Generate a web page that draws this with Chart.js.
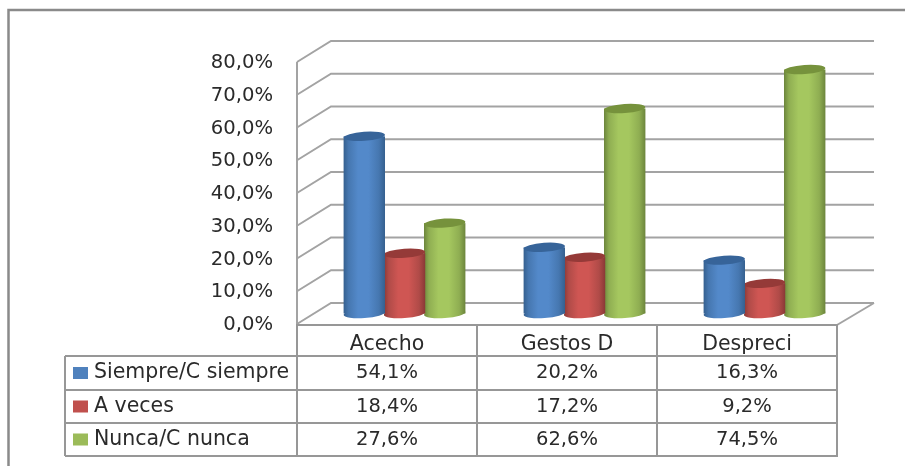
<!DOCTYPE html>
<html>
<head>
<meta charset="utf-8">
<style>
  html, body { margin: 0; padding: 0; background: #fff; }
  canvas { display: block; }
</style>
<script src="https://cdn.jsdelivr.net/npm/chart.js@4"></script>
</head>
<body>
<canvas id="grafico" width="905" height="466"></canvas>
<script>
// datos
const categorias = ["Acecho", "Gestos D", "Despreci"];
const siempre = [54.1, 20.2, 16.3];
const aVeces = [18.4, 17.2, 9.2];
const nunca = [27.6, 62.6, 74.5];
const nombres = ["Siempre/C siempre", "A veces", "Nunca/C nunca"];

// colores: base, borde oscuro, medio, centro claro, tapa
const azul = ["#4f81bd", "#35608f", "#4677b0", "#5389ca", "#376499"];
const rojo = ["#c0504d", "#8a3836", "#b04b48", "#cf5653", "#953a38"];
const verde = ["#9bbb59", "#6c853c", "#8fae52", "#a5c75f", "#76923c"];

const FUENTE = '"DejaVu Sans"';
const TEXTO = "#2a2a2a";
const REJILLA = "#a3a3a3";
const BORDE = "#979797";
// profundidad del fondo 3D
const DX = 34, DY = -21;

function linea(ctx, x1, y1, x2, y2) {
  ctx.beginPath();
  ctx.moveTo(x1, y1);
  ctx.lineTo(x2, y2);
  ctx.stroke();
}

// paredes y rejilla en perspectiva
function dibujarFondo(chart) {
  const ctx = chart.ctx, a = chart.chartArea, y = chart.scales.y;
  ctx.save();
  ctx.strokeStyle = REJILLA;
  ctx.lineWidth = 2;
  y.ticks.forEach(t => {
    const py = y.getPixelForValue(t.value);
    ctx.beginPath();
    ctx.moveTo(a.left, py);
    ctx.lineTo(a.left + DX, py + DY);
    ctx.lineTo(a.right + DX + 3, py + DY);
    ctx.stroke();
  });
  linea(ctx, a.left, a.top, a.left, a.bottom);
  linea(ctx, a.right + DX + 3, a.bottom + DY, a.right, a.bottom + 1);
  ctx.restore();
}

function dibujarCilindro(ctx, el, colores) {
  const izq = el.x - el.width / 2 + DX / 2 + 0.5, der = el.x + el.width / 2 + DX / 2 + 0.5;
  const cx = (izq + der) / 2, rx = el.width / 2, ry = 4.5, giro = -0.07;
  const arriba = el.y + DY / 2, abajo = el.base + DY / 2;
  const grad = ctx.createLinearGradient(izq, 0, der, 0);
  grad.addColorStop(0, colores[1]);
  grad.addColorStop(0.12, colores[2]);
  grad.addColorStop(0.35, colores[3]);
  grad.addColorStop(0.6, colores[3]);
  grad.addColorStop(0.85, colores[2]);
  grad.addColorStop(1, colores[1]);
  ctx.fillStyle = grad;
  ctx.beginPath();
  ctx.ellipse(cx, abajo, rx, ry, giro, 0, Math.PI * 2);
  ctx.fill();
  ctx.fillRect(izq, arriba, der - izq, abajo - arriba);
  ctx.fillStyle = colores[4];
  ctx.beginPath();
  ctx.ellipse(cx, arriba, rx, ry, giro, 0, Math.PI * 2);
  ctx.fill();
}

// tabla de datos debajo del eje
function dibujarTabla(chart) {
  const ctx = chart.ctx, a = chart.chartArea, x = chart.scales.x;
  const filas = [356, 390, 423, 456];
  const izq = 65;
  const cols = categorias.map((c, i) => x.getPixelForValue(i) + (a.right - a.left) / 6);
  ctx.save();
  ctx.strokeStyle = BORDE;
  ctx.lineWidth = 2;
  filas.forEach(f => linea(ctx, izq, f, a.right, f));
  linea(ctx, izq, filas[0], izq, filas[3]);
  linea(ctx, a.left, a.bottom + 1, a.right, a.bottom + 1);
  linea(ctx, a.left, a.bottom, a.left, filas[3]);
  cols.forEach(c => linea(ctx, c, a.bottom, c, filas[3] + 1));
  ctx.textBaseline = "middle";
  chart.data.datasets.forEach((ds, i) => {
    const yc = (filas[i] + filas[i + 1]) / 2;
    ctx.fillStyle = ds.backgroundColor;
    ctx.fillRect(73, yc - 6, 15, 12);
    ctx.fillStyle = TEXTO;
    ctx.textAlign = "left";
    ctx.font = "20.5px " + FUENTE;
    ctx.fillText(nombres[i], 94, yc);
    ctx.textAlign = "center";
    ctx.font = "19.5px " + FUENTE;
    ds.data.forEach((v, j) => {
      ctx.fillText(v.toFixed(1).replace(".", ",") + "%", x.getPixelForValue(j), yc);
    });
  });
  ctx.restore();
}

const plugin3d = {
  id: "plugin3d",
  beforeDatasetsDraw(chart) {
    dibujarFondo(chart);
  },
  beforeDatasetDraw(chart, args) {
    const colores = [azul, rojo, verde][args.index];
    args.meta.data.forEach(el => dibujarCilindro(chart.ctx, el, colores));
    return false;
  },
  afterDraw(chart) {
    dibujarTabla(chart);
    // marco exterior
    const ctx = chart.ctx;
    ctx.save();
    ctx.strokeStyle = "#8a8a8a";
    ctx.lineWidth = 2.5;
    ctx.beginPath();
    ctx.moveTo(8.5, 466);
    ctx.lineTo(8.5, 10);
    ctx.lineTo(905, 10);
    ctx.stroke();
    ctx.restore();
  }
};

new Chart(document.getElementById("grafico"), {
  type: "bar",
  data: {
    labels: categorias,
    datasets: [
      { label: nombres[0], data: siempre, backgroundColor: azul[0] },
      { label: nombres[1], data: aVeces, backgroundColor: rojo[0] },
      { label: nombres[2], data: nunca, backgroundColor: verde[0] }
    ]
  },
  plugins: [plugin3d],
  options: {
    responsive: false,
    animation: false,
    layout: { padding: { top: 62, right: 68, left: 0, bottom: 0 } },
    categoryPercentage: 0.67,
    barPercentage: 1.03,
    plugins: { legend: { display: false }, tooltip: { enabled: false } },
    scales: {
      x: {
        afterFit: s => { s.height = 142; },
        grid: { display: false, drawTicks: false },
        border: { display: false },
        ticks: { padding: 8, color: TEXTO, font: { family: FUENTE, size: 20.5 } }
      },
      y: {
        min: 0,
        max: 80,
        afterFit: s => { s.width = 297; },
        grid: { display: false, drawTicks: false },
        border: { display: false },
        ticks: {
          stepSize: 10,
          padding: 24,
          labelOffset: 1,
          color: TEXTO,
          font: { family: FUENTE, size: 19.6 },
          callback: v => v.toFixed(1).replace(".", ",") + "%"
        }
      }
    }
  }
});
</script>
</body>
</html>
